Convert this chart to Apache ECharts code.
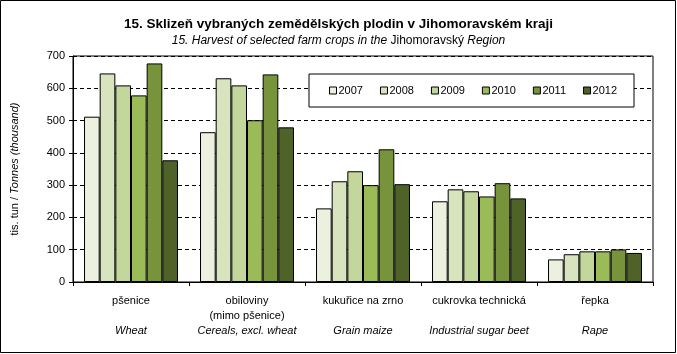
<!DOCTYPE html>
<html>
<head>
<meta charset="utf-8">
<script src="https://cdn.jsdelivr.net/npm/echarts@6/dist/echarts.min.js"></script>
<style>
  html, body { margin: 0; padding: 0; background: #fff; }
  #main { width: 677px; height: 354px; }
</style>
</head>
<body>
<div id="main"></div>
<script>
var categoriesCz = ['pšenice', 'obiloviny', 'kukuřice na zrno', 'cukrovka technická', 'řepka'];
var categoriesCz2 = ['', '(mimo pšenice)', '', '', ''];
var categoriesEn = ['Wheat', 'Cereals, excl. wheat', 'Grain maize', 'Industrial sugar beet', 'Rape'];
var years = ['2007', '2008', '2009', '2010', '2011', '2012'];
var colors = ['#EBF1DE', '#D7E4BD', '#C3D69B', '#9BBB59', '#77933C', '#4F6228'];

var v2007 = [512, 464, 228, 250, 70];
var v2008 = [646, 631, 312, 287, 86];
var v2009 = [609, 609, 343, 281, 95];
var v2010 = [578, 501, 300, 265, 95];
var v2011 = [677, 643, 411, 306, 101];
var v2012 = [377, 479, 303, 259, 90];
var values = [v2007, v2008, v2009, v2010, v2011, v2012];

var font = 'Liberation Sans, Arial, sans-serif';

var myChart = echarts.init(document.getElementById('main'));
var series = [];
for (var i = 0; i < years.length; i++) {
    series.push({
        name: years[i],
        type: 'bar',
        data: values[i],
        barGap: 0,
        barCategoryGap: '19%',
        itemStyle: {
            color: colors[i],
            borderColor: '#000',
            borderWidth: 1
        }
    });
}

option = {
    animation: false,
    textStyle: { fontFamily: font },
    graphic: [
        {
            type: 'rect',
            shape: { x: 0.5, y: 0.5, width: 675, height: 352 },
            style: { fill: null, stroke: '#000', lineWidth: 1 }
        },
        {
            type: 'rect',
            shape: { x: 73, y: 56, width: 580, height: 226 },
            style: { fill: null, stroke: '#000', lineWidth: 1 },
            z: 0
        }
    ],
    title: {
        text: '15. Sklizeň vybraných zemědělských plodin v Jihomoravském kraji',
        subtext: '{i|15. Harvest of selected farm crops in the }{n|Jihomoravský }{i|Region}',
        left: 'center',
        top: 12,
        itemGap: 4,
        textStyle: {
            color: '#000',
            fontSize: 13.5,
            fontWeight: 'bold',
            fontFamily: font
        },
        subtextStyle: {
            color: '#000',
            fontSize: 12,
            fontFamily: font,
            rich: {
                i: { fontStyle: 'italic', fontSize: 12, color: '#000', fontFamily: font },
                n: { fontSize: 12, color: '#000', fontFamily: font }
            }
        }
    },
    legend: {
        data: years,
        left: 309,
        top: 74,
        width: 325,
        padding: [11, 17, 11, 20],
        borderColor: '#000',
        borderWidth: 1,
        backgroundColor: '#fff',
        icon: 'rect',
        itemWidth: 7,
        itemHeight: 7,
        itemGap: 17,
        textStyle: { color: '#000', fontSize: 11, fontFamily: font, padding: [0, 0, 0, -3] },
        itemStyle: { borderColor: '#000', borderWidth: 1 }
    },
    grid: {
        left: 73,
        right: 24,
        top: 56,
        bottom: 72
    },
    xAxis: {
        type: 'category',
        data: categoriesCz,
        axisLine: { lineStyle: { color: '#000' } },
        axisTick: { show: true, length: 4, lineStyle: { color: '#000' } },
        axisLabel: {
            interval: 0,
            margin: 12,
            formatter: function (val, idx) {
                return '{cz|' + val + '}\n{cz|' + (categoriesCz2[idx] || ' ') + '}\n{en|' + categoriesEn[idx] + '}';
            },
            rich: {
                cz: { fontSize: 11, color: '#000', fontFamily: font, lineHeight: 14.5 },
                en: { fontSize: 11, color: '#000', fontFamily: font, fontStyle: 'italic', lineHeight: 15 }
            }
        }
    },
    yAxis: {
        type: 'value',
        min: 0,
        max: 700,
        interval: 100,
        name: '{n|tis. tun / }{i|Tonnes (thousand)}',
        nameLocation: 'middle',
        nameGap: 53,
        nameRotate: 90,
        nameTextStyle: {
            rich: {
                n: { fontSize: 11, color: '#000', fontFamily: font },
                i: { fontSize: 11, color: '#000', fontFamily: font, fontStyle: 'italic' }
            }
        },
        axisLine: { show: true, lineStyle: { color: '#000' } },
        axisTick: { show: true, length: 4, lineStyle: { color: '#000' } },
        axisLabel: { color: '#000', fontSize: 11, fontFamily: font, margin: 8 },
        splitLine: { lineStyle: { color: '#000', type: [4, 3], width: 1 } }
    },
    series: series
};
myChart.setOption(option);
</script>
</body>
</html>
